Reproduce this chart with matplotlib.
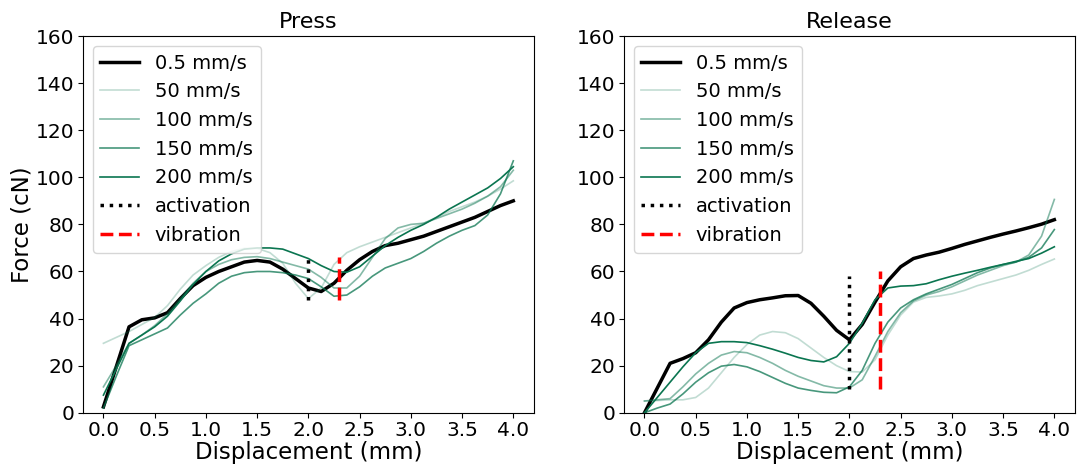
import numpy as np
import matplotlib
matplotlib.use("Agg")
from matplotlib import pyplot as plt

# displacement grid (mm)
disp = np.arange(33) * 0.125

speeds = ["0.5 mm/s", "50 mm/s", "100 mm/s", "150 mm/s", "200 mm/s"]

press_05 = [2.5, 19.5, 36.5, 39.5, 40.3, 42.5, 48.5, 54, 57.5, 60, 62, 64, 64.7, 64, 61, 57,
            53, 51.5, 55, 60.5, 65, 68.5, 71, 72, 73.5, 75, 77, 79, 81, 83, 85.5, 88, 90]
press_50 = [29.5, 32, 34.5, 37.5, 40.5, 45.5, 52.5, 58.5, 62.5, 66, 68.5, 69.8, 69.8, 68, 63.5, 55,
            48.5, 53, 63, 68, 70.5, 72.5, 74.5, 76.5, 78.5, 80.5, 83, 85.5, 87.5, 89.5, 92, 95, 98.5]
press_100 = [11, 20, 29.5, 33, 37, 42, 48.5, 55, 60, 63, 65, 66, 66.3, 65.5, 64, 62.5,
             61, 57.5, 53, 53, 58, 66, 74, 78.5, 80, 80.5, 82.5, 84.5, 86.5, 89, 92, 96, 103]
press_150 = [2, 15.5, 28.5, 31, 33.5, 36, 41.5, 46.5, 50.5, 55, 58, 59.5, 60, 60, 59.5, 58.5,
             57, 53.5, 49.5, 50, 53.5, 58, 61.5, 63.5, 65.5, 68.5, 72, 75, 77.5, 79.5, 84, 93, 107]
press_200 = [7.5, 18.5, 29.5, 33, 36.5, 41, 47.5, 54.5, 60, 64.5, 67.5, 69.5, 70, 70, 69.5, 67.5,
             65.5, 62.5, 60, 59.7, 62, 66.5, 71, 74.5, 77.5, 80, 83, 86.5, 89.5, 92.5, 95.5, 99.5, 104.5]

release_05 = [0, 10.5, 21, 23, 25.5, 31, 38.5, 44.5, 46.8, 48, 48.8, 49.7, 49.8, 46.5, 41, 35,
              31, 37.5, 47, 56, 62, 65.5, 67, 68.2, 69.8, 71.5, 73, 74.5, 75.9, 77.2, 78.6, 80.1, 82]
release_50 = [5, 5.2, 5.5, 5.5, 6.5, 10.5, 17, 23.5, 29, 33, 34.5, 34, 31.5, 27.5, 23.5, 20,
              17.5, 17.3, 22.5, 33, 41.5, 47, 49, 49.6, 50.5, 52, 54, 55.5, 57, 58.5, 60.5, 63, 65.3]
release_100 = [5, 5.5, 6, 11, 16.5, 21, 24.5, 26, 25.5, 23.5, 21, 18, 15.5, 13.5, 11.5, 10.5,
               10.5, 14, 24, 34.5, 42.5, 47.5, 50, 51.5, 53.5, 56, 58.5, 60.5, 62.5, 64, 67, 75, 90.6]
release_150 = [0, 2, 3.7, 8, 13, 17, 19.8, 20.5, 19.5, 17.5, 15, 12.5, 10.5, 9.5, 8.7, 8.5,
               11, 18, 29.5, 38.5, 44.5, 48, 50.5, 52.5, 54.5, 57, 59.5, 61.5, 63, 64, 66, 70, 77.8]
release_200 = [0, 6.5, 13, 19.5, 25.5, 29.5, 30.2, 30.2, 29.8, 28.5, 27, 25.3, 23.5, 22.2, 21.6, 23.8,
               29.5, 38, 48, 53, 53.8, 54, 54.8, 56.5, 58, 59.3, 60.5, 61.8, 63, 64.3, 65.5, 67.8, 70.5]

activation_x = 2.0
vibration_x = 2.3
press_marks = (48, 66)
release_act = (10, 58)
release_vib = (10, 60)

green = "#0a7550"
alphas = [0.25, 0.5, 0.75, 1.0]

fig, axes = plt.subplots(1, 2, figsize=(10.77, 4.68), dpi=100)
plt.subplots_adjust(left=0.077, right=0.998, bottom=0.118, top=0.923, wspace=0.2)

panels = [
    ("Press", [press_05, press_50, press_100, press_150, press_200], press_marks, press_marks),
    ("Release", [release_05, release_50, release_100, release_150, release_200], release_act, release_vib),
]

for ax, (title, curves, act, vib) in zip(axes, panels):
    ax.plot(disp, curves[0], color="black", lw=2.5, label=speeds[0])
    for c, a, lab in zip(curves[1:], alphas, speeds[1:]):
        ax.plot(disp, c, color=green, alpha=a, lw=1.2, label=lab)
    ax.vlines(activation_x, act[0], act[1], colors="black", linestyles=":", lw=2.5, label="activation")
    ax.vlines(vibration_x, vib[0], vib[1], colors="red", linestyles="--", lw=2.5, label="vibration")
    ax.set_xlim(-0.2, 4.2)
    ax.set_ylim(0, 160)
    ax.set_xticks(np.arange(0, 4.01, 0.5))
    ax.set_yticks(np.arange(0, 161, 20))
    ax.tick_params(labelsize=14.5, pad=2.5)
    ax.set_title(title, fontsize=16)
    ax.set_xlabel("Displacement (mm)", fontsize=16.5, labelpad=1)
    ax.legend(loc="upper left", fontsize=14)

axes[0].set_ylabel("Force (cN)", fontsize=16.5, labelpad=2)

plt.savefig("out.png", dpi=100)
